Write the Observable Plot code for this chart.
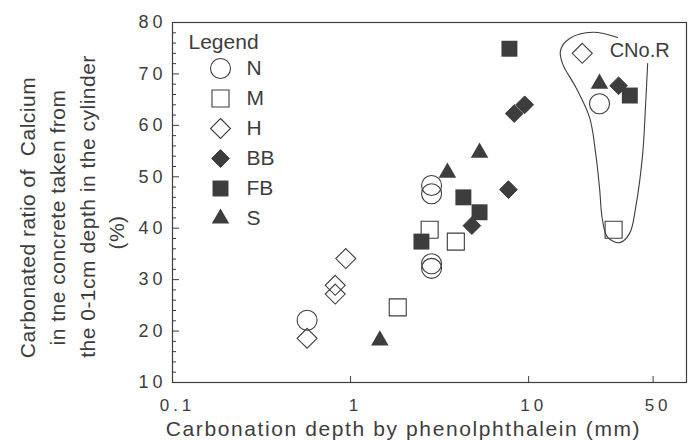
<!DOCTYPE html>
<html><head><meta charset="utf-8">
<script src="https://cdn.jsdelivr.net/npm/d3@7"></script>
<script src="https://cdn.jsdelivr.net/npm/@observablehq/plot@0.6"></script>
<style>
body{margin:0;background:#fff;}
#chart svg{font-family:"Liberation Sans",Arial,sans-serif;}
g[aria-description="tick-labels"] text{letter-spacing:4px;}
g[aria-description="titles"] text{letter-spacing:0.5px;}
g[aria-description="x-title"] text{letter-spacing:1.6px;}
</style></head><body><div id="chart"></div>
<script>
// ---- data ----
const seriesNames = ["N", "M", "H", "BB", "FB", "S"];
const depthN = [0.57, 2.85, 2.85, 2.85, 2.85, 25];
const ratioN = [22.1, 48.3, 46.7, 33.1, 32.2, 64.2];
const depthM = [1.84, 2.78, 3.9, 30];
const ratioM = [24.6, 39.7, 37.4, 39.7];
const depthH = [0.94, 0.82, 0.82, 0.57, 20];
const ratioH = [34.1, 28.9, 27.2, 18.6, 74.0];
const depthBB = [8.3, 9.5, 7.7, 4.8, 32];
const ratioBB = [62.3, 64.0, 47.5, 40.5, 67.7];
const depthFB = [7.8, 4.3, 5.3, 2.5, 37];
const ratioFB = [74.9, 46.0, 43.1, 37.4, 65.8];
const depthS = [1.46, 3.5, 5.3, 25];
const ratioS = [18.2, 50.8, 54.7, 68.1];
// outline drawn around the CNo.R group (depth, ratio)
const outlineDepth = [31.6, 22.9, 17.0, 15.1, 15.5, 18.4, 22.0, 23.8, 25.0, 26.0, 27.8, 32.5, 36.9, 39.9, 43.7, 45.4, 46.6];
const outlineRatio = [77.1, 78.1, 76.9, 74.6, 72.0, 67.4, 61.5, 54.5, 47.9, 41.5, 38.2, 37.2, 39.0, 44.0, 54.5, 64.2, 72.0];
const outlineLabel = {depth: 28.5, ratio: 74.6, text: "CNo.R"};
const yTicks = [10, 20, 30, 40, 50, 60, 70, 80];
const yMinorTicks = [12,14,16,18,22,24,26,28,32,34,36,38,42,44,46,48,52,54,56,58,62,64,66,68,72,74,76,78];
const xTicks = [0.1, 1, 10, 50];
const xTickLabels = ["0.1", "1", "10", "50"];
const yTitleLines = ["Carbonated ratio of  Calcium", "in tne concrete taken from", "the 0-1cm depth in the cylinder", "(%)"];
const xTitle = "Carbonation depth by phenolphthalein (mm)";

const series = {
  N: [depthN, ratioN], M: [depthM, ratioM], H: [depthH, ratioH],
  BB: [depthBB, ratioBB], FB: [depthFB, ratioFB], S: [depthS, ratioS]
};

// ---- styles ----
const ink = "#3d3d3d";
const sty = {
  N:  {symbol: "circle",   r: 10,  fill: "none", stroke: ink, strokeWidth: 1.1},
  M:  {symbol: "square",   r: 9.6, fill: "none", stroke: ink, strokeWidth: 1.1},
  H:  {symbol: "diamond2", r: 9,   fill: "none", stroke: ink, strokeWidth: 1.1},
  BB: {symbol: "diamond2", r: 8,   fill: ink, stroke: ink, strokeWidth: 1},
  FB: {symbol: "square",   r: 9,   fill: ink, stroke: "none"},
  S:  {symbol: "triangle", r: 6.5, fill: ink, stroke: "none"}
};

const W = 698, H = 441, mL = 172, mR = 12, mT = 22, mB = 59;
const plotW = W - mL - mR, plotH = H - mT - mB;

const marks = [];
marks.push(Plot.frame({stroke: ink, strokeWidth: 1.2}));
marks.push(Plot.tickY(yTicks, {y: d => d, insetRight: plotW - 7, stroke: ink}));
marks.push(Plot.tickY(yMinorTicks, {y: d => d, insetRight: plotW - 4, stroke: ink}));
marks.push(Plot.tickX(xTicks.slice(1), {x: d => d, insetTop: plotH - 6, stroke: ink}));
marks.push(Plot.text(yTicks, {y: d => d, frameAnchor: "left", dx: -6, textAnchor: "end", lineAnchor: "middle", text: d => String(d), fontSize: 18, fill: ink, ariaDescription: "tick-labels"}));
marks.push(Plot.text(xTicks, {x: d => d, frameAnchor: "bottom", dy: 23, dx: 5, textAnchor: "middle", lineAnchor: "middle", text: (d, i) => xTickLabels[i], fontSize: 17, fill: ink, ariaDescription: "tick-labels"}));
marks.push(Plot.text([xTitle], {frameAnchor: "bottom", dx: -26, dy: 47, textAnchor: "middle", lineAnchor: "middle", text: d => d, fontSize: 21, fill: ink, ariaDescription: "x-title"}));
const yTitleDx = [-144, -114, -84, -55], yTitleDy = [15, 15, 4, 30];
yTitleLines.forEach((t, i) => marks.push(Plot.text([t], {frameAnchor: "left", dx: yTitleDx[i], dy: yTitleDy[i], rotate: -90, textAnchor: "middle", lineAnchor: "middle", text: d => d, fontSize: 21, fill: ink, ariaDescription: "titles"})));

// outline + label
marks.push(Plot.line(outlineDepth.map((d, i) => [d, outlineRatio[i]]), {x: d => d[0], y: d => d[1], curve: "catmull-rom", stroke: ink, strokeWidth: 1.1}));
marks.push(Plot.text([outlineLabel], {x: "depth", y: "ratio", text: "text", textAnchor: "start", lineAnchor: "middle", fontSize: 20, fill: ink}));

// data points
for (const name of seriesNames) {
  const [xs, ys] = series[name];
  marks.push(Plot.dot(xs.map((x, i) => ({x, y: ys[i]})), {x: "x", y: "y", ...sty[name]}));
}

// legend
marks.push(Plot.text(["Legend"], {frameAnchor: "top-left", dx: 16, dy: 20, textAnchor: "start", lineAnchor: "middle", text: d => d, fontSize: 21, fill: ink}));
seriesNames.forEach((name, i) => {
  marks.push(Plot.dot([name], {frameAnchor: "top-left", dx: 48, dy: 46 + 30 * i, ...sty[name]}));
  marks.push(Plot.text([name], {frameAnchor: "top-left", dx: 74, dy: 46 + 30 * i, textAnchor: "start", lineAnchor: "middle", text: d => d, fontSize: 21, fill: ink}));
});

const chart = Plot.plot({
  width: W, height: H,
  marginLeft: mL, marginRight: mR, marginTop: mT, marginBottom: mB,
  x: {type: "log", domain: [0.1, 77], axis: null},
  y: {domain: [10, 80], axis: null},
  style: {background: "white", color: ink},
  marks
});
document.getElementById("chart").appendChild(chart);
</script></body></html>
